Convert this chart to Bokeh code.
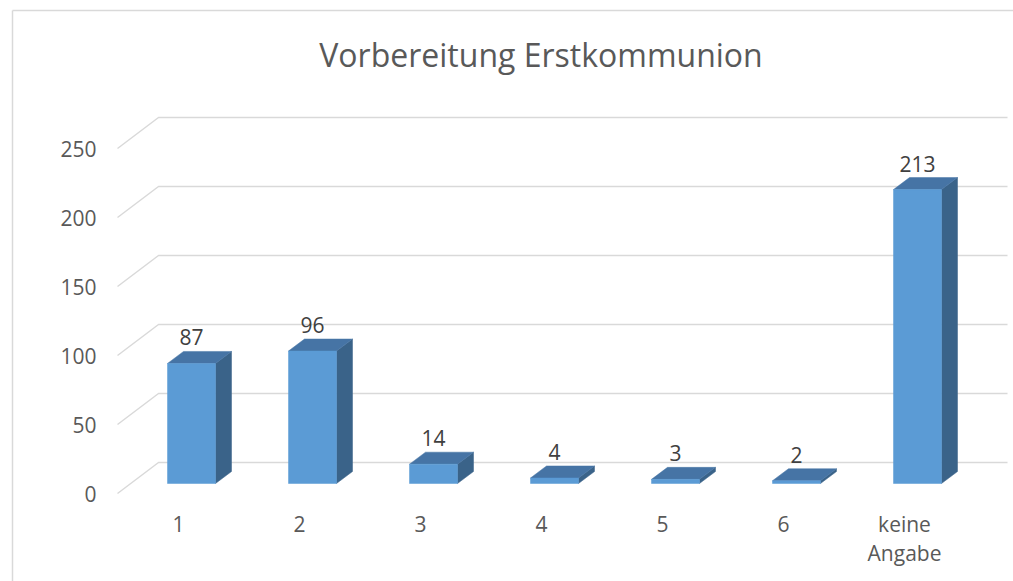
import numpy as np
from bokeh.plotting import figure
from bokeh.models import Range1d
from bokeh.embed import file_html
from bokeh.resources import INLINE
from bokeh.core.properties import value

# ---------------- data ----------------
title = "Vorbereitung Erstkommunion"
categories = ["1", "2", "3", "4", "5", "6", "keine\nAngabe"]
counts = [87, 96, 14, 4, 3, 2, 213]
y_ticks = [0, 50, 100, 150, 200, 250]

# ---------------- geometry ----------------
W, H = 1013, 581
CAT_PX = 121.0      # pixels per category
UNIT_PX = 1.38      # pixels per value unit
X0 = 191.0          # canvas x of first category centre
Y0 = 483.0          # canvas y of value 0 (bar base)

def dx(px):
    return px / CAT_PX

def dy(px):
    return px / UNIT_PX

FONT = value("Open Sans")
FRONT = "#5B9BD5"
TOP = "#4674A5"
SIDE = "#3A6389"
GRID = "#D9D9D9"

p = figure(width=W, height=H, output_backend="svg", toolbar_location=None,
           x_range=Range1d(-dx(X0), dx(W - X0)),
           y_range=Range1d(-dy(H - Y0), dy(Y0)),
           min_border=0, outline_line_color=None,
           x_axis_type=None, y_axis_type=None)
p.grid.visible = False
p.background_fill_color = "white"
p.border_fill_color = "white"

n = len(counts)
idx = np.arange(n, dtype=float)
vals = np.array(counts, dtype=float)

# chart border (left + top)
bx = -dx(179)
by = dy(473)
p.line([bx, bx], [-dy(200), by], line_color=GRID, line_width=1.5)
p.line([bx, dx(2000)], [by, by], line_color=GRID, line_width=1.5)

# back wall gridlines + floor diagonals
wall_x0, wall_x1 = -dx(33), (n - 1) + dx(90)
wall_dy = dy(21)
front_x, front_dy = -dx(74), -dy(10)
gx, gy = [], []
for t in y_ticks:
    gx.append([front_x, wall_x0, wall_x1])
    gy.append([t + front_dy, t + wall_dy, t + wall_dy])
p.multi_line(gx, gy, line_color=GRID, line_width=1.5)

# y tick labels
p.text(x=[-dx(95)] * len(y_ticks), y=[t + front_dy for t in y_ticks],
       text=[str(t) for t in y_ticks], text_align="right", text_baseline="middle",
       text_font=FONT, text_font_size="21px", text_color="#595959")

# bars (3D)
BW = dx(48)
DX = dx(16)
DY = dy(12)
x_left = idx - BW / 2
x_right = idx + BW / 2
side_xs = [[r, r + DX, r + DX, r] for r in x_right]
side_ys = [[0, DY, v + DY, v] for v in vals]
top_xs = [[l, r, r + DX, l + DX] for l, r in zip(x_left, x_right)]
top_ys = [[v, v, v + DY, v + DY] for v in vals]
p.patches(side_xs, side_ys, fill_color=SIDE, line_color=SIDE, line_width=0.5)
p.patches(top_xs, top_ys, fill_color=TOP, line_color=TOP, line_width=0.5)
p.vbar(x=idx, top=vals, bottom=0, width=BW, fill_color=FRONT, line_color=FRONT, line_width=0.5)

# data labels
p.text(x=idx, y=vals + DY + dy(14), text=[str(c) for c in counts],
       text_align="center", text_baseline="middle",
       text_font=FONT, text_font_size="21px", text_color="#404040")

# category labels (one text item per line, 30 px line spacing)
lx, ly, lt = [], [], []
for i, cat in enumerate(categories):
    for k, line in enumerate(cat.split("\n")):
        lx.append(i - dx(13))
        ly.append(-dy(40 + 29 * k))
        lt.append(line)
p.text(x=lx, y=ly, text=lt, text_align="center", text_baseline="alphabetic",
       text_font=FONT, text_font_size="21px", text_color="#595959")

# title
p.text(x=[dx(540.5 - X0)], y=[dy(Y0 - 54)], text=[title],
       text_align="center", text_baseline="alphabetic",
       text_font=FONT, text_font_size="32px", text_color="#595959")

open("out.html", "w").write(file_html(p, INLINE))
